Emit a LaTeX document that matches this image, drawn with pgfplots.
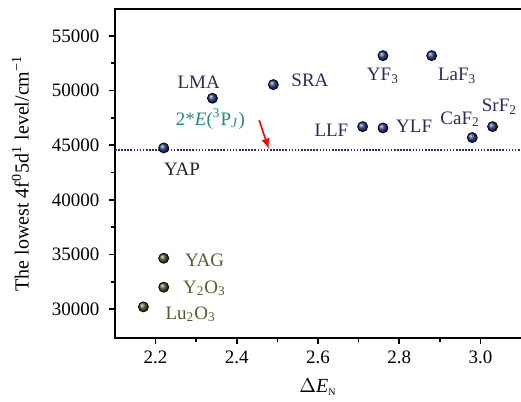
\documentclass[border=0pt]{standalone}
\usepackage{fontspec}
\setmainfont{Liberation Serif}
\usepackage{pgfplots}
\pgfplotsset{compat=1.18}
\definecolor{navytxt}{HTML}{2E2A5C}
\definecolor{tealtxt}{HTML}{1E8C7E}
\definecolor{olivetxt}{HTML}{5B5A2E}
\definecolor{dotline}{HTML}{2E2F6E}
\definecolor{blueball}{HTML}{283F94}
\definecolor{oliveball}{HTML}{5F5535}
\begin{document}
\fontsize{9.5}{11}\selectfont
\begin{tikzpicture}
\begin{axis}[
  scale only axis,
  width=203pt, height=164.5pt,
  xmin=2.1, xmax=3.1, ymin=27350, ymax=57470,
  xtick={2.2,2.4,2.6,2.8,3.0},
  ytick={30000,35000,40000,45000,50000,55000},
  scaled y ticks=false,
  minor x tick num=1, minor y tick num=1,
  xtick pos=left, ytick pos=left,
  tick align=outside,
  major tick length=3pt, minor tick length=2pt,
  every tick/.style={black, line width=0.8pt},
  axis line style={draw=none},
  x tick label style={/pgf/number format/fixed, /pgf/number format/fixed zerofill, /pgf/number format/precision=1},
  y tick label style={/pgf/number format/fixed, /pgf/number format/1000 sep={}, xshift=-1.5pt},
  /pgf/number format/assume math mode=true,
  tick label style={font=\fontsize{9.5}{11}\selectfont},
  xlabel={$\Delta$\textit{E}\textsubscript{\tiny N}},
  ylabel={The lowest 4f\textsuperscript{0}5d\textsuperscript{1} level/cm\textsuperscript{−1}},
  label style={font=\fontsize{10}{12}\selectfont},
  xlabel style={yshift=-1pt},
  ylabel style={yshift=5pt},
  clip=false,
]
\draw[line width=1.1pt] (rel axis cs:1,1) -- (rel axis cs:0,1) -- (rel axis cs:0,0) -- (rel axis cs:1,0);
\addplot[dotline, line width=1.1pt, dash pattern=on 0.8pt off 0.75pt] coordinates {(2.1,44550) (3.1,44550)};
\addplot[only marks, mark=ball, mark size=2.5pt, mark options={ball color=blueball}] coordinates {
  (2.22,44750) (2.34,49300) (2.49,50550) (2.76,53200) (2.88,53200)
  (2.71,46700) (2.76,46580) (2.98,45700) (3.03,46700)
};
\addplot[only marks, mark=ball, mark size=2.5pt, mark options={ball color=oliveball}] coordinates {
  (2.22,34650) (2.22,32000) (2.17,30200)
};
\draw[-latex, red, line width=0.8pt] (axis cs:2.455,47300) -- (axis cs:2.479,44650);
\node[anchor=base, navytxt] at (axis cs:2.306,50210) {LMA};
\node[anchor=base, tealtxt] at (axis cs:2.335,46850) {2*\textit{E}(\textsuperscript{3}P\textsubscript{\textit{J}})};
\node[anchor=base, black!85] at (axis cs:2.265,42270) {YAP};
\node[anchor=base west, navytxt] at (axis cs:2.518,50420) {SRA};
\node[anchor=base, navytxt] at (axis cs:2.760,50906) {YF\textsubscript{3}};
\node[anchor=base, navytxt] at (axis cs:2.943,50879) {LaF\textsubscript{3}};
\node[anchor=base, navytxt] at (axis cs:2.633,45842) {LLF};
\node[anchor=base west, navytxt] at (axis cs:2.776,46181) {YLF};
\node[anchor=base, navytxt] at (axis cs:2.950,46913) {CaF\textsubscript{2}};
\node[anchor=base, navytxt] at (axis cs:3.047,48067) {SrF\textsubscript{2}};
\node[anchor=base west, olivetxt] at (axis cs:2.256,33872) {YAG};
\node[anchor=base west, olivetxt] at (axis cs:2.251,31437) {Y\textsubscript{2}O\textsubscript{3}};
\node[anchor=base west, olivetxt] at (axis cs:2.208,29083) {Lu\textsubscript{2}O\textsubscript{3}};
\end{axis}
\pgfresetboundingbox
\useasboundingbox (-57.5pt,-32pt) rectangle (203pt,169pt);
\end{tikzpicture}
\end{document}
